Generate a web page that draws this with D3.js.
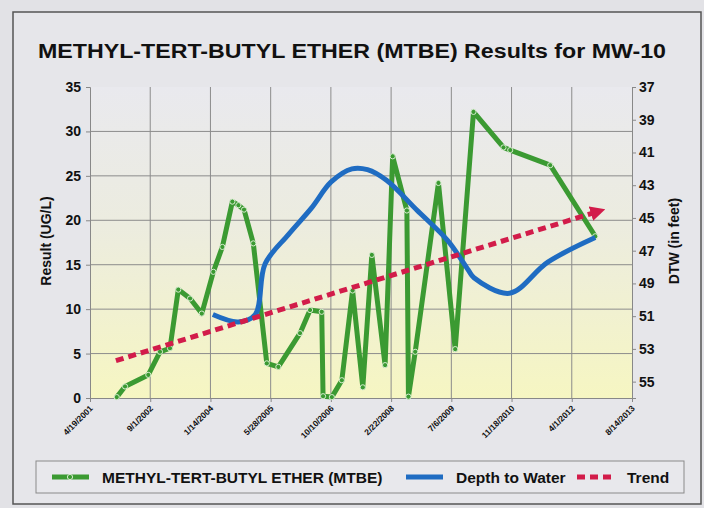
<!DOCTYPE html>
<html>
<head>
<meta charset="utf-8">
<script src="https://cdn.jsdelivr.net/npm/d3@7"></script>
<style>
  body { margin: 0; background: #e4e4e7; }
  svg { display: block; font-family: "Liberation Sans", Arial, sans-serif; }
</style>
</head>
<body>
<svg id="chart" width="704" height="508"></svg>
<script>
// MTBE results (ug/L) by sample date
var mtbeDates = ["2001-11-27","2002-02-04","2002-08-16","2002-11-21","2003-02-12","2003-04-22","2003-07-29",
  "2003-11-03","2004-02-07","2004-04-22","2004-07-14","2004-09-02","2004-10-19","2005-01-04","2005-04-26",
  "2005-07-31","2006-01-27","2006-04-20","2006-07-26","2006-08-06","2006-10-18","2007-01-09","2007-04-08",
  "2007-07-02","2007-09-15","2008-01-03","2008-03-06","2008-07-02","2008-07-15","2008-09-09","2009-03-21",
  "2009-08-07","2010-01-06","2010-09-12","2010-11-07","2011-10-05","2012-10-13"];
var mtbeValues = [0.1, 1.3, 2.6, 5.2, 5.6, 12.2, 11.2, 9.5, 14.2, 17.0, 22.1, 21.7, 21.2, 17.4, 3.9,
  3.5, 7.3, 9.9, 9.7, 0.2, 0.1, 2.0, 12.1, 1.2, 16.1, 3.7, 27.2, 21.1, 0.15, 5.2, 24.2,
  5.5, 32.2, 28.2, 27.9, 26.2, 18.2];

// depth to water (ft)
var dtwDates = ["2004-02-03","2004-09-01","2005-01-20","2005-04-12","2005-10-24","2006-05-01","2006-10-12",
  "2007-04-03","2007-08-10","2008-01-15","2008-09-20","2009-06-08","2009-11-25","2010-01-10","2010-11-01",
  "2011-09-15","2012-10-13"];
var dtwValues = [50.9, 51.35, 50.9, 47.8, 46.0, 44.4, 42.8, 42.0, 42.05, 42.7, 44.5, 46.4, 48.2, 48.65, 49.6,
  47.7, 46.2];

// linear trend of MTBE
var trendDates = ["2001-11-20","2012-10-13"];
var trendValues = [4.2, 20.9];

var xTickLabels = ["4/19/2001","9/1/2002","1/14/2004","5/28/2005","10/10/2006","2/22/2008","7/6/2009","11/18/2010","4/1/2012","8/14/2013"];
var yLeftTicks = [0, 5, 10, 15, 20, 25, 30, 35];
var yRightTicks = [37, 39, 41, 43, 45, 47, 49, 51, 53, 55];

var svg = d3.select("#chart");
var parseISO = d3.timeParse("%Y-%m-%d");
var parseMDY = d3.timeParse("%m/%d/%Y");

var plot = {left: 90, right: 632, top: 87, bottom: 398};
var xTicks = xTickLabels.map(function(s) { return parseMDY(s); });

var x = d3.scaleTime().domain([xTicks[0], xTicks[xTicks.length - 1]]).range([plot.left, plot.right]);
var y = d3.scaleLinear().domain([0, 35]).range([plot.bottom, plot.top]);
var y2 = d3.scaleLinear().domain([37, 56]).range([plot.top, plot.bottom]);

var green = "#3b9a32", blue = "#1f6cc2", red = "#d21c4a";

// frame + backgrounds
var defs = svg.append("defs");
var grad = defs.append("linearGradient").attr("id", "plotbg").attr("x1", 0).attr("y1", 0).attr("x2", 0).attr("y2", 1);
grad.append("stop").attr("offset", "0%").attr("stop-color", "#e9e9ee");
grad.append("stop").attr("offset", "45%").attr("stop-color", "#ececdf");
grad.append("stop").attr("offset", "100%").attr("stop-color", "#f6f6c2");

defs.append("marker").attr("id", "arrow")
  .attr("viewBox", "0 0 10 10").attr("refX", 3).attr("refY", 5)
  .attr("markerWidth", 3).attr("markerHeight", 3.2).attr("orient", "auto")
  .append("path").attr("d", "M0,0L10,5L0,10z").attr("fill", red);

svg.append("rect").attr("x", 0).attr("y", 0).attr("width", 704).attr("height", 508).attr("fill", "#e2e2e6");
svg.append("rect").attr("x", 13).attr("y", 12).attr("width", 688).attr("height", 492)
  .attr("fill", "#e6e6ea").attr("stroke", "#555").attr("stroke-width", 1.5);

svg.append("rect").attr("x", plot.left).attr("y", plot.top)
  .attr("width", plot.right - plot.left).attr("height", plot.bottom - plot.top)
  .attr("fill", "url(#plotbg)");

// title
svg.append("text").attr("x", 352).attr("y", 58).attr("text-anchor", "middle")
  .attr("font-size", 20).attr("font-weight", "bold").attr("fill", "#111")
  .attr("textLength", 628).attr("lengthAdjust", "spacingAndGlyphs")
  .text("METHYL-TERT-BUTYL ETHER (MTBE) Results for MW-10");

// grid
svg.append("g").selectAll("line").data(yLeftTicks.slice(1, -1)).enter().append("line")
  .attr("x1", plot.left).attr("x2", plot.right)
  .attr("y1", function(d) { return y(d); }).attr("y2", function(d) { return y(d); })
  .attr("stroke", "#8c8c8c").attr("stroke-width", 1);
svg.append("g").selectAll("line").data(xTicks.slice(1, -1)).enter().append("line")
  .attr("x1", function(d) { return x(d); }).attr("x2", function(d) { return x(d); })
  .attr("y1", plot.top).attr("y2", plot.bottom)
  .attr("stroke", "#8c8c8c").attr("stroke-width", 1);

// axes
var leftAxis = svg.append("g").attr("transform", "translate(" + plot.left + ",0)")
  .call(d3.axisLeft(y).tickValues(yLeftTicks).tickSize(4).tickPadding(5));
var rightAxis = svg.append("g").attr("transform", "translate(" + plot.right + ",0)")
  .call(d3.axisRight(y2).tickValues(yRightTicks).tickSize(4).tickPadding(3));
var bottomAxis = svg.append("g").attr("transform", "translate(0," + plot.bottom + ")")
  .call(d3.axisBottom(x).tickValues(xTicks).tickSize(4).tickFormat(function(d, i) { return xTickLabels[i]; }));

[leftAxis, rightAxis, bottomAxis].forEach(function(a) {
  a.select(".domain").attr("stroke", "#888");
  a.selectAll(".tick line").attr("stroke", "#888");
  a.selectAll("text").attr("fill", "#111").attr("font-weight", "bold")
   .attr("font-family", "'Liberation Sans', Arial, sans-serif");
});
leftAxis.selectAll("text").attr("font-size", 14);
rightAxis.selectAll("text").attr("font-size", 14);
bottomAxis.selectAll("text").attr("font-size", 8.5)
  .attr("text-anchor", "end").attr("dy", 0)
  .attr("transform", "translate(-2,6) rotate(-45)");

// axis titles
svg.append("text").attr("transform", "translate(51,241) rotate(-90)").attr("text-anchor", "middle")
  .attr("font-size", 14).attr("font-weight", "bold").attr("fill", "#111").text("Result (UG/L)");
svg.append("text").attr("transform", "translate(679,241) rotate(-90)").attr("text-anchor", "middle")
  .attr("font-size", 14).attr("font-weight", "bold").attr("fill", "#111").text("DTW (in feet)");

// series
var mtbe = mtbeDates.map(function(d, i) { return {date: parseISO(d), value: mtbeValues[i]}; });
var dtw = dtwDates.map(function(d, i) { return {date: parseISO(d), value: dtwValues[i]}; });
var trend = trendDates.map(function(d, i) { return {date: parseISO(d), value: trendValues[i]}; });

var lineLeft = d3.line().x(function(d) { return x(d.date); }).y(function(d) { return y(d.value); });
var lineRight = d3.line().curve(d3.curveCatmullRom.alpha(0.5))
  .x(function(d) { return x(d.date); }).y(function(d) { return y2(d.value); });

svg.append("path").datum(mtbe).attr("d", lineLeft)
  .attr("fill", "none").attr("stroke", green).attr("stroke-width", 5).attr("stroke-linejoin", "round");
svg.append("g").selectAll("circle").data(mtbe).enter().append("circle")
  .attr("cx", function(d) { return x(d.date); }).attr("cy", function(d) { return y(d.value); })
  .attr("r", 2.6).attr("fill", green).attr("stroke", "#d8ecd0").attr("stroke-width", 1);

svg.append("path").datum(dtw).attr("d", lineRight)
  .attr("fill", "none").attr("stroke", blue).attr("stroke-width", 5).attr("stroke-linejoin", "round");

svg.append("path").datum(trend).attr("d", lineLeft)
  .attr("fill", "none").attr("stroke", red).attr("stroke-width", 5)
  .attr("stroke-dasharray", "8,5").attr("marker-end", "url(#arrow)");

// legend
var lg = svg.append("g");
lg.append("rect").attr("x", 36).attr("y", 461).attr("width", 648).attr("height", 32)
  .attr("fill", "#e8e8ec").attr("stroke", "#8a8a8a").attr("stroke-width", 1);
var legendItems = [
  {label: "METHYL-TERT-BUTYL ETHER (MTBE)", color: green, x: 52, type: "marker"},
  {label: "Depth to Water", color: blue, x: 406, type: "line"},
  {label: "Trend", color: red, x: 577, type: "dash"}
];
legendItems.forEach(function(it) {
  var g = lg.append("g").attr("transform", "translate(" + it.x + ",477)");
  var ln = g.append("line").attr("x1", 0).attr("x2", 37).attr("y1", 0).attr("y2", 0)
    .attr("stroke", it.color).attr("stroke-width", 5);
  if (it.type === "marker") {
    g.append("circle").attr("cx", 18).attr("cy", 0).attr("r", 2.6).attr("fill", it.color)
      .attr("stroke", "#d8ecd0").attr("stroke-width", 1);
  }
  if (it.type === "dash") ln.attr("stroke-dasharray", "8,5");
  g.append("text").attr("x", 50).attr("y", 5.5).attr("font-size", 15.5).attr("font-weight", "bold")
    .attr("fill", "#111").text(it.label);
});
</script>
</body>
</html>
